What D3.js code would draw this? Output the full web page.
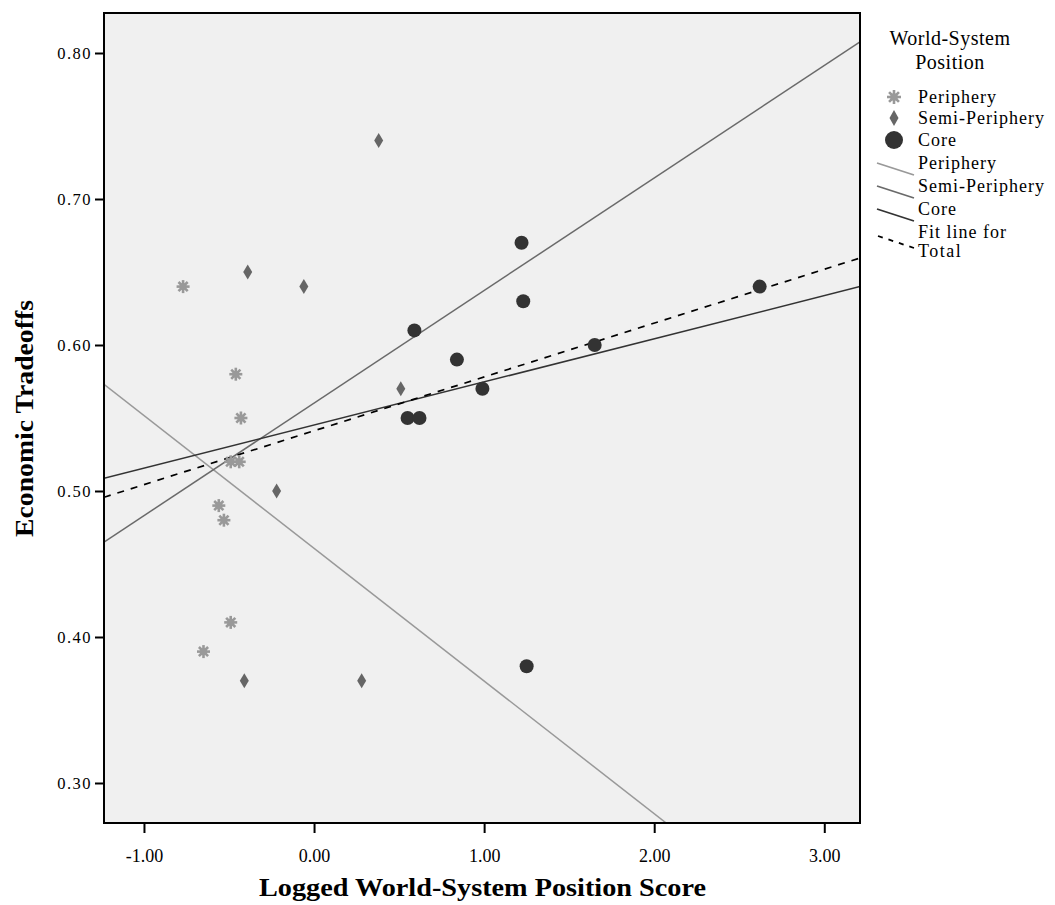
<!DOCTYPE html>
<html>
<head>
<meta charset="utf-8">
<script src="https://cdn.jsdelivr.net/npm/d3@7"></script>
<style>
  body { margin: 0; background: #fff; }
  text { font-family: "Liberation Serif", "DejaVu Serif", serif; fill: #000; }
</style>
</head>
<body>
<svg id="chart" width="1055" height="905"></svg>
<script>
// data
var peripheryX = [-0.77, -0.46, -0.43, -0.49, -0.44, -0.56, -0.53, -0.49, -0.65];
var peripheryY = [0.64, 0.58, 0.55, 0.52, 0.52, 0.49, 0.48, 0.41, 0.39];

var semiX = [0.38, -0.39, -0.06, 0.51, -0.22, -0.41, 0.28];
var semiY = [0.74, 0.65, 0.64, 0.57, 0.50, 0.37, 0.37];

var coreX = [1.22, 1.23, 0.59, 0.84, 0.99, 0.55, 0.62, 2.62, 1.65, 1.25];
var coreY = [0.67, 0.63, 0.61, 0.59, 0.57, 0.55, 0.55, 0.64, 0.60, 0.38];

// fit lines: value at x = -1.235 and at x = 3.21
var fitNames = ['Periphery', 'Semi-Periphery', 'Core', 'Total'];
var fitStart = [0.573, 0.465, 0.5087, 0.4957];
var fitEnd   = [0.169, 0.8077, 0.640, 0.6596];

var xTicks = [-1, 0, 1, 2, 3];
var yTicks = [0.3, 0.4, 0.5, 0.6, 0.7, 0.8];

var legendItems = ['Periphery', 'Semi-Periphery', 'Core', 'Periphery', 'Semi-Periphery', 'Core'];

(function () {
  var svg = d3.select('#chart');
  var pLeft = 104, pRight = 860, pTop = 13, pBottom = 823;
  var fmt = function (d) { return d.toFixed(2); };

  var x = d3.scaleLinear().domain([-1.235, 3.21]).range([pLeft, pRight]);
  var y = d3.scaleLinear().domain([0.2726, 0.8274]).range([pBottom, pTop]);

  svg.append('rect')
    .attr('x', pLeft).attr('y', pTop)
    .attr('width', pRight - pLeft).attr('height', pBottom - pTop)
    .attr('fill', '#f0f0f0');

  svg.append('clipPath').attr('id', 'plotclip')
    .append('rect')
    .attr('x', pLeft).attr('y', pTop)
    .attr('width', pRight - pLeft).attr('height', pBottom - pTop);

  // axes
  var xAxis = svg.append('g')
    .attr('transform', 'translate(0,' + pBottom + ')')
    .call(d3.axisBottom(x).tickValues(xTicks).tickSize(10).tickFormat(fmt));
  xAxis.select('.domain').remove();
  xAxis.selectAll('line').attr('stroke', '#000').attr('stroke-width', 2);
  xAxis.selectAll('text')
    .attr('y', 26).attr('font-size', 18)
    .style('font-family', '"Liberation Serif", serif');

  var yAxis = svg.append('g')
    .attr('transform', 'translate(' + pLeft + ',0)')
    .call(d3.axisLeft(y).tickValues(yTicks).tickSize(9).tickFormat(fmt));
  yAxis.select('.domain').remove();
  yAxis.selectAll('line').attr('stroke', '#000').attr('stroke-width', 2);
  yAxis.selectAll('text')
    .attr('x', -12).attr('font-size', 16.5).attr('letter-spacing', 1.5)
    .style('font-family', '"Liberation Serif", serif');

  var plot = svg.append('g').attr('clip-path', 'url(#plotclip)');

  // fit lines
  var lineColor = ['#999999', '#6a6a6a', '#333333', '#000000'];
  var line = d3.line().x(function (d) { return x(d[0]); }).y(function (d) { return y(d[1]); });

  fitNames.forEach(function (name, i) {
    plot.append('path')
      .datum([[-1.235, fitStart[i]], [3.21, fitEnd[i]]])
      .attr('d', line)
      .attr('fill', 'none')
      .attr('stroke', lineColor[i])
      .attr('stroke-width', name === 'Total' ? 1.7 : 1.5)
      .attr('stroke-dasharray', name === 'Total' ? '7,7' : null);
  });

  // marker shapes
  function asterisk(g, cx, cy, r) {
    var a = g.append('g').attr('transform', 'translate(' + cx + ',' + cy + ')');
    [0, 45, 90, 135].forEach(function (ang) {
      var rad = ang * Math.PI / 180;
      a.append('line')
        .attr('x1', -r * Math.cos(rad)).attr('y1', -r * Math.sin(rad))
        .attr('x2', r * Math.cos(rad)).attr('y2', r * Math.sin(rad))
        .attr('stroke', '#999999').attr('stroke-width', 2.6);
    });
    a.append('circle').attr('r', r * 0.55).attr('fill', '#999999');
  }
  function diamond(g, cx, cy, w, h) {
    g.append('path')
      .attr('d', 'M' + cx + ',' + (cy - h) + 'L' + (cx + w) + ',' + cy + 'L' + cx + ',' + (cy + h) + 'L' + (cx - w) + ',' + cy + 'Z')
      .attr('fill', '#666666');
  }

  peripheryX.forEach(function (v, i) {
    asterisk(plot, x(v), y(peripheryY[i]), 6.5);
  });
  semiX.forEach(function (v, i) {
    diamond(plot, x(v), y(semiY[i]), 4.5, 7.5);
  });
  plot.selectAll('circle.core')
    .data(coreX)
    .enter().append('circle')
    .attr('class', 'core')
    .attr('cx', function (d) { return x(d); })
    .attr('cy', function (d, i) { return y(coreY[i]); })
    .attr('r', 7)
    .attr('fill', '#333333');

  // frame
  svg.append('rect')
    .attr('x', pLeft).attr('y', pTop)
    .attr('width', pRight - pLeft).attr('height', pBottom - pTop)
    .attr('fill', 'none').attr('stroke', '#000').attr('stroke-width', 2);

  // axis titles
  svg.append('text')
    .attr('x', 259).attr('y', 896)
    .attr('font-size', 25).attr('font-weight', 'bold')
    .attr('textLength', 447).attr('lengthAdjust', 'spacingAndGlyphs')
    .text('Logged World-System Position Score');

  svg.append('text')
    .attr('transform', 'translate(33,537) rotate(-90)')
    .attr('font-size', 25).attr('font-weight', 'bold')
    .attr('textLength', 237).attr('lengthAdjust', 'spacingAndGlyphs')
    .text('Economic Tradeoffs');

  // legend
  var lg = svg.append('g');
  lg.append('text').attr('x', 950).attr('y', 45).attr('text-anchor', 'middle')
    .attr('font-size', 20).attr('letter-spacing', 0.5).text('World-System');
  lg.append('text').attr('x', 950).attr('y', 69).attr('text-anchor', 'middle')
    .attr('font-size', 20).attr('letter-spacing', 0.5).text('Position');

  var rowY = [97, 118, 140, 163, 186, 209];
  legendItems.forEach(function (name, i) {
    lg.append('text').attr('x', 918).attr('y', rowY[i] + 6)
      .attr('font-size', 18).attr('letter-spacing', 1).text(name);
  });
  asterisk(lg, 894, rowY[0], 7);
  diamond(lg, 894, rowY[1], 4.5, 8);
  lg.append('circle').attr('cx', 894).attr('cy', rowY[2]).attr('r', 9).attr('fill', '#333333');

  [0, 1, 2].forEach(function (i) {
    lg.append('line')
      .attr('x1', 877).attr('y1', rowY[3 + i])
      .attr('x2', 914).attr('y2', rowY[3 + i] + 12)
      .attr('stroke', lineColor[i]).attr('stroke-width', 1.8);
  });
  lg.append('line')
    .attr('x1', 878).attr('y1', 236)
    .attr('x2', 914).attr('y2', 248)
    .attr('stroke', '#000').attr('stroke-width', 1.8)
    .attr('stroke-dasharray', '5,6');
  lg.append('text').attr('x', 918).attr('y', 238).attr('font-size', 18).attr('letter-spacing', 1).text('Fit line for');
  lg.append('text').attr('x', 918).attr('y', 257).attr('font-size', 18).attr('letter-spacing', 1.5).text('Total');
})();
</script>
</body>
</html>
